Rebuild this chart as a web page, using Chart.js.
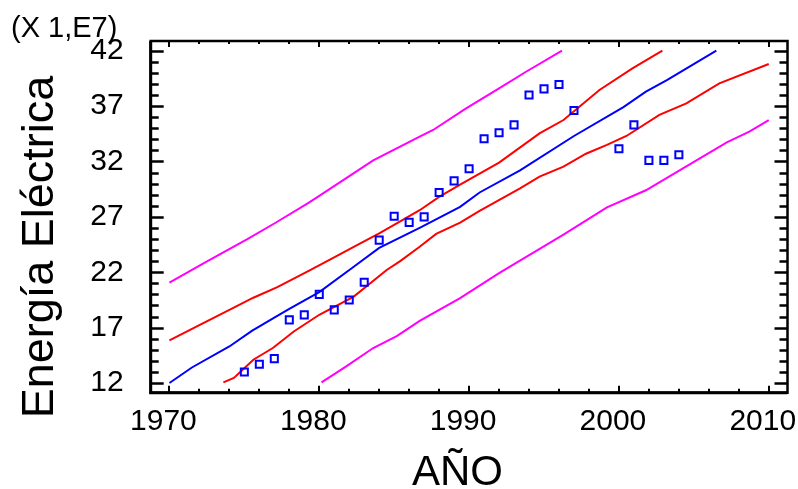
<!DOCTYPE html>
<html>
<head>
<meta charset="utf-8">
<script src="https://cdn.jsdelivr.net/npm/chart.js@4/dist/chart.umd.min.js"></script>
<style>
  html, body { margin: 0; padding: 0; background: #ffffff; }
  #wrap { width: 798px; height: 489px; position: relative; }
</style>
</head>
<body>
<div id="wrap"><canvas id="c" width="798" height="489"></canvas></div>
<script>
// ---------- data ----------
const obsYears  = [1975,1976,1977,1978,1979,1980,1981,1982,1983,1984,1985,1986,1987,1988,1989,1990,1991,1992,1993,1994,1995,1996,1997,2000,2001,2002,2003,2004];
const obsEnergy = [13.0,13.7,14.2,17.7,18.15,20.0,18.6,19.5,21.1,24.9,27.05,26.5,27.0,29.2,30.25,31.35,34.05,34.6,35.3,38.0,38.55,38.95,36.6,33.15,35.3,32.1,32.1,32.6];

const fitYears  = [1970,1971.5,1974,1975.5,1977,1978,1980,1982.3,1984,1986.7,1989.4,1990.7,1993.4,1997,2000.3,2001.8,2003.2,2006.5];
const fitValues = [12.0,13.4,15.3,16.7,17.9,18.7,20.2,22.5,24.2,26.0,27.9,29.2,31.2,34.3,36.9,38.3,39.35,42.0];

const confUpYears  = [1970,1971.8,1974,1975.6,1977.2,1979.2,1980.9,1982.3,1984,1985.4,1986.7,1988,1989.4,1992,1994.7,1996.3,1998.7,2000.9,2002.9];
const confUpValues = [15.84,17.1,18.6,19.7,20.66,22.06,23.27,24.3,25.5,26.6,27.6,28.8,29.9,31.9,34.54,35.74,38.45,40.4,42.0];

const confLoYears  = [1973.6,1974.3,1975.6,1976.9,1978.3,1980,1982.3,1984.5,1985.4,1986.7,1987.8,1989.4,1990.7,1993.4,1994.7,1996.3,1997.8,1999.2,2000.5,2002.7,2004.5,2006.7,2010];
const confLoValues = [12.05,12.45,14.1,15.16,16.65,18.16,19.8,22.2,23.0,24.3,25.46,26.48,27.54,29.58,30.63,31.53,32.7,33.5,34.3,36.2,37.25,39.05,40.8];

const predUpYears  = [1970,1972.3,1975.2,1977,1979.2,1980,1983.6,1986.7,1987.6,1989.8,1992,1993.8,1996.2];
const predUpValues = [21.07,22.82,24.98,26.4,28.2,28.9,32.1,34.24,34.84,36.8,38.6,40.1,42.0];

const predLoYears  = [1980.15,1981.8,1983.6,1985.2,1986.7,1989.4,1992,1996.3,1999.2,2001.8,2004.3,2007.2,2008.7,2010];
const predLoValues = [12.05,13.5,15.16,16.25,17.6,19.66,21.92,25.4,27.85,29.4,31.4,33.73,34.69,35.74];

const xMajorTicks = [1970,1980,1990,2000,2010];
const yMajorTicks = [12,17,22,27,32,37,42];
const xTitle = 'AÑO';
const yTitle = 'Energía Eléctrica';
const yMultiplier = '(X 1,E7)';

// ---------- helpers ----------
function pts(xs, ys) { return xs.map((x, i) => ({ x: x, y: ys[i] })); }
function lineDs(xs, ys, color) {
  return { data: pts(xs, ys), showLine: true, borderColor: color, borderWidth: 2,
           pointRadius: 0, pointHoverRadius: 0, fill: false, tension: 0, order: 2 };
}

const X_MIN = 1968.75, X_MAX = 2011.25;
const Y_MIN = 11.125, Y_MAX = 42.875;
const AREA = { left: 150.7, top: 41, right: 787.5, bottom: 392.7 };

const frameAndTicks = {
  id: 'frameAndTicks',
  afterDatasetsDraw(chart) {
    const ctx = chart.ctx, xs = chart.scales.x, ys = chart.scales.y;
    const a = chart.chartArea;
    ctx.save();
    ctx.strokeStyle = '#000';
    ctx.lineCap = 'butt';
    // y ticks (inward, both sides)
    ctx.lineWidth = 2.5;
    for (let v = 12; v <= 42; v++) {
      const p = Math.round(ys.getPixelForValue(v)) + 0.5;
      const major = yMajorTicks.includes(v);
      const len = major ? 13 : 8;
      ctx.beginPath();
      ctx.moveTo(a.left, p); ctx.lineTo(a.left + len, p);
      ctx.moveTo(a.right, p); ctx.lineTo(a.right - len, p);
      ctx.stroke();
    }
    // x ticks (inward, bottom and top)
    ctx.lineWidth = 2;
    for (let yr = 1970; yr <= 2010; yr += 2) {
      const p = Math.round(xs.getPixelForValue(yr));
      const major = xMajorTicks.includes(yr);
      ctx.beginPath();
      ctx.moveTo(p, a.bottom); ctx.lineTo(p, a.bottom - (major ? 7 : 4));
      ctx.moveTo(p, a.top); ctx.lineTo(p, a.top + (major ? 6 : 3));
      ctx.stroke();
    }
    // frame
    ctx.lineWidth = 2.5;
    ctx.strokeRect(a.left, a.top, a.right - a.left, a.bottom - a.top);
    ctx.lineWidth = 3;
    ctx.beginPath();
    ctx.moveTo(a.left, a.top); ctx.lineTo(a.left, a.bottom); ctx.lineTo(a.right, a.bottom);
    ctx.stroke();

    // texts
    ctx.fillStyle = '#000';
    ctx.font = '29px "Liberation Sans", Arial, sans-serif';
    ctx.textAlign = 'left';
    ctx.textBaseline = 'alphabetic';
    ctx.fillText(yMultiplier, 11, 37);

    ctx.font = '42px "Liberation Sans", Arial, sans-serif';
    ctx.textAlign = 'center';
    ctx.fillText(xTitle, 457.5, 485);

    ctx.save();
    ctx.translate(53, 247);
    ctx.rotate(-Math.PI / 2);
    ctx.font = '45px "Liberation Sans", Arial, sans-serif';
    ctx.textAlign = 'center';
    ctx.fillText(yTitle, 0, 0);
    ctx.restore();
    ctx.restore();
  }
};

new Chart(document.getElementById('c'), {
  type: 'scatter',
  data: {
    datasets: [
      lineDs(predUpYears, predUpValues, '#ff00ff'),
      lineDs(predLoYears, predLoValues, '#ff00ff'),
      lineDs(confUpYears, confUpValues, '#ff0000'),
      lineDs(confLoYears, confLoValues, '#ff0000'),
      lineDs(fitYears, fitValues, '#0000ff'),
      { data: pts(obsYears, obsEnergy), showLine: false, pointStyle: 'rect',
        pointRadius: 5, pointBorderWidth: 2, borderColor: '#0000ff', pointBorderColor: '#0000ff',
        backgroundColor: 'rgba(0,0,0,0)', pointBackgroundColor: 'rgba(0,0,0,0)', order: 1 }
    ]
  },
  options: {
    responsive: false,
    animation: false,
    events: [],
    layout: { padding: { left: 0, top: AREA.top, right: 798 - AREA.right, bottom: 0 } },
    plugins: { legend: { display: false }, tooltip: { enabled: false }, title: { display: false } },
    scales: {
      x: {
        type: 'linear', min: X_MIN, max: X_MAX,
        grid: { display: false, drawTicks: false }, border: { display: false },
        afterBuildTicks(s) { s.ticks = xMajorTicks.map(v => ({ value: v })); },
        afterFit(s) { s.height = 489 - AREA.bottom; s.paddingLeft = 0; s.paddingRight = 0; },
        ticks: { color: '#000', font: { family: '"Liberation Sans", Arial, sans-serif', size: 30 },
                 padding: 11, maxRotation: 0, autoSkip: false, labelOffset: -6,
                 callback: v => String(v) }
      },
      y: {
        type: 'linear', min: Y_MIN, max: Y_MAX,
        grid: { display: false, drawTicks: false }, border: { display: false },
        afterBuildTicks(s) { s.ticks = yMajorTicks.map(v => ({ value: v })); },
        afterFit(s) { s.width = AREA.left; s.paddingTop = 0; s.paddingBottom = 0; },
        ticks: { color: '#000', font: { family: '"Liberation Sans", Arial, sans-serif', size: 30 },
                 padding: 27, autoSkip: false, callback: v => String(v) }
      }
    }
  },
  plugins: [frameAndTicks]
});
</script>
</body>
</html>
